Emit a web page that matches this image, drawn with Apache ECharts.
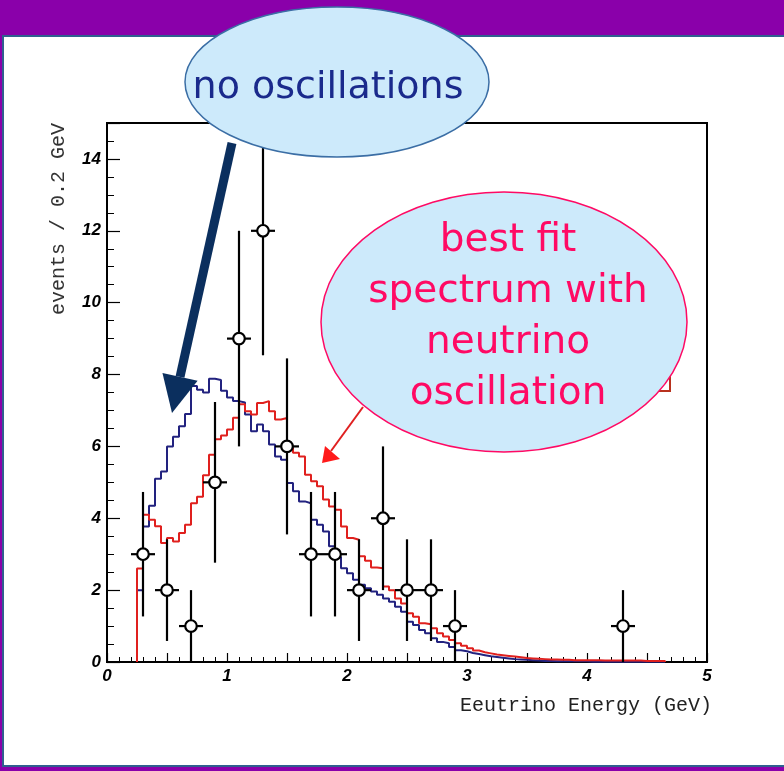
<!DOCTYPE html>
<html>
<head>
<meta charset="utf-8">
<script src="https://cdn.jsdelivr.net/npm/echarts@6/dist/echarts.min.js"></script>
<style>
  html, body { margin: 0; padding: 0; background: #8a00aa; }
  #chart { width: 784px; height: 771px; }
</style>
</head>
<body>
<div id="chart"></div>
<script>
// Histogram binning (GeV)
const binStart = 0.25;
const binWidth = 0.05;

// Best-fit spectrum with oscillation (events per bin)
const oscFit = [
  2.60, 4.10, 3.96, 3.78, 3.31, 3.45, 3.35, 3.59, 3.82, 4.42,
  4.60, 5.20, 5.77, 6.20, 6.30, 6.47, 6.80, 7.17, 6.98, 6.89,
  7.21, 7.26, 6.98, 6.75, 6.79, 5.96, 5.82, 5.72, 5.21, 5.03,
  4.89, 4.52, 4.33, 4.24, 3.77, 3.45, 3.40, 2.94, 2.82, 2.63,
  2.61, 2.10, 2.00, 1.77, 1.63, 1.36, 1.26, 1.08, 1.05, 0.94,
  0.80, 0.71, 0.61, 0.52, 0.45, 0.38, 0.32, 0.27, 0.24, 0.21,
  0.19, 0.17, 0.15, 0.13, 0.11, 0.10, 0.09, 0.08, 0.07, 0.07,
  0.06, 0.06, 0.05, 0.05, 0.05, 0.05, 0.05, 0.04, 0.04, 0.04,
  0.04, 0.04, 0.04, 0.04, 0.03, 0.03, 0.03, 0.03
];

// Expectation without oscillation (events per bin)
const noOsc = [
  2.00, 3.77, 4.35, 5.10, 5.30, 6.00, 6.27, 6.56, 6.90, 7.68,
  7.58, 7.50, 7.88, 7.85, 7.55, 7.36, 7.26, 7.22, 6.89, 6.42,
  6.61, 6.42, 6.05, 5.72, 5.63, 4.98, 4.75, 4.47, 4.42, 3.96,
  3.82, 3.63, 3.22, 2.92, 2.61, 2.47, 2.29, 2.15, 2.05, 1.96,
  1.87, 1.77, 1.68, 1.54, 1.40, 1.12, 1.03, 0.89, 0.80, 0.66,
  0.56, 0.52, 0.42, 0.33, 0.30, 0.25, 0.22, 0.19, 0.16, 0.14,
  0.12, 0.10, 0.08, 0.07, 0.06, 0.05, 0.04, 0.03, 0.03, 0.02,
  0.02, 0.02, 0.02, 0.02, 0.02, 0.01, 0.01, 0.01, 0.01, 0.01,
  0.01, 0.01, 0.01, 0.01, 0.01, 0.01, 0.01, 0.01
];

// Observed events per 0.2 GeV
const dataEnergy = [0.3, 0.5, 0.7, 0.9, 1.1, 1.3, 1.5, 1.7, 1.9, 2.1, 2.3, 2.5, 2.7, 2.9, 4.3];
const dataEvents = [3, 2, 1, 5, 9, 12, 6, 3, 3, 2, 4, 2, 2, 1, 1];
const dataHalfWidth = 0.1;

// Axis ranges and tick steps
const xMin = 0, xMax = 5, xStep = 0.5, xLabelStep = 1;
const yMin = 0, yMax = 15, yMinorStep = 0.5, yMajorStep = 2;

const xTitle = 'Eeutrino Energy (GeV)';
const yTitle = 'events / 0.2 GeV';
const noteNoOsc = 'no oscillations';
const noteFit = ['best fit', 'spectrum with', 'neutrino', 'oscillation'];

function stepPoints(vals) {
  const pts = [[binStart, 0]];
  vals.forEach((v, i) => {
    const lo = +(binStart + i * binWidth).toFixed(3);
    const hi = +(lo + binWidth).toFixed(3);
    pts.push([lo, v], [hi, v]);
  });
  pts.push([pts[pts.length - 1][0], 0]);
  return pts;
}

const tickFont = { fontFamily: 'Liberation Sans', fontWeight: 'bold', fontStyle: 'italic', fontSize: 17, color: '#000' };

const chart = echarts.init(document.getElementById('chart'), null, { renderer: 'canvas' });

const pink = '#ff0a64';
const navy = '#0b2f5e';
const bubbleFill = '#cdeafb';

// arrow helper: shaft polygon + head triangle
function arrow(x1, y1, x2, y2, shaftW, headLen, headHalf, color, z) {
  const dx = x2 - x1, dy = y2 - y1, L = Math.hypot(dx, dy);
  const ux = dx / L, uy = dy / L, nx = -uy, ny = ux;
  const bx = x2 - ux * headLen, by = y2 - uy * headLen;
  const h = shaftW / 2;
  return [
    { type: 'polygon', z: z, shape: { points: [
        [x1 + nx * h, y1 + ny * h], [bx + nx * h, by + ny * h],
        [bx - nx * h, by - ny * h], [x1 - nx * h, y1 - ny * h]] },
      style: { fill: color } },
    { type: 'polygon', z: z, shape: { points: [
        [x2, y2], [bx + nx * headHalf, by + ny * headHalf], [bx - nx * headHalf, by - ny * headHalf]] },
      style: { fill: color } }
  ];
}

const graphics = [
  // white slide panel
  { type: 'rect', z: -100, shape: { x: 3, y: 36, width: 800, height: 730 },
    style: { fill: '#ffffff', stroke: '#2f5f8f', lineWidth: 2 } },
  // axis titles
  { type: 'text', z: 10, x: 712, y: 706,
    style: { text: xTitle, align: 'right', verticalAlign: 'middle',
      font: '20px "Liberation Mono"', fill: '#222' } },
  { type: 'text', z: 10, x: 59, y: 219, rotation: Math.PI / 2,
    style: { text: yTitle, align: 'center', verticalAlign: 'middle',
      font: '20px "Liberation Mono"', fill: '#333' } },
  // edge of a box partly behind the bubble
  { type: 'polyline', z: 50, shape: { points: [[670, 340], [670, 391], [640, 391]] },
    style: { stroke: '#b8321e', lineWidth: 2, fill: null } },
  // bubble: best fit
  { type: 'ellipse', z: 60, shape: { cx: 504, cy: 322, rx: 183, ry: 130 },
    style: { fill: bubbleFill, stroke: pink, lineWidth: 1.5 } },
  ...noteFit.map((t, i) => ({ type: 'text', z: 61, x: 508, y: 241 + i * 51,
    style: { text: t, align: 'center', verticalAlign: 'middle',
      font: '39px "DejaVu Sans"', fill: pink } })),
  { type: 'line', z: 62, shape: { x1: 363, y1: 407, x2: 331, y2: 451 },
    style: { stroke: '#e02020', lineWidth: 2 } },
  { type: 'polygon', z: 62, shape: { points: [[322, 463], [325, 446], [340, 459]] },
    style: { fill: '#ff1a1a' } },
  // bubble: no oscillations
  { type: 'ellipse', z: 60, shape: { cx: 337, cy: 82, rx: 152, ry: 75 },
    style: { fill: bubbleFill, stroke: '#3b6ea5', lineWidth: 1.5 } },
  { type: 'text', z: 61, x: 328, y: 88,
    style: { text: noteNoOsc, align: 'center', verticalAlign: 'middle',
      font: '38px "DejaVu Sans"', fill: '#1a2a8c' } },
  ...arrow(232, 143, 172, 413, 9, 37, 18, navy, 70)
];

const option = {
  backgroundColor: '#8a00aa',
  animation: false,
  grid: { left: 107, top: 123, width: 600, height: 539, show: true,
    borderColor: '#000', borderWidth: 2, backgroundColor: 'transparent' },
  xAxis: {
    type: 'value', min: xMin, max: xMax, interval: xStep,
    axisLine: { lineStyle: { color: '#000', width: 2 } },
    axisTick: { inside: true, length: 9, lineStyle: { color: '#000', width: 1.2 } },
    minorTick: { show: true, splitNumber: 5, length: 5, lineStyle: { color: '#000', width: 1 } },
    splitLine: { show: false },
    axisLabel: Object.assign({ margin: 6,
      formatter: v => (Math.abs(v / xLabelStep - Math.round(v / xLabelStep)) < 1e-6 ? String(v) : '') }, tickFont)
  },
  yAxis: [
    {
      type: 'value', min: yMin, max: yMax, interval: yMinorStep,
      axisLine: { show: true, lineStyle: { color: '#000', width: 2 } },
      axisTick: { inside: true, length: 7, lineStyle: { color: '#000', width: 1 } },
      axisLabel: { show: false },
      splitLine: { show: false }
    },
    {
      type: 'value', min: yMin, max: yMax, interval: yMajorStep, position: 'left', offset: 0,
      axisLine: { show: true, lineStyle: { color: '#000', width: 2 } },
      axisTick: { inside: true, length: 13, lineStyle: { color: '#000', width: 1.2 } },
      splitLine: { show: false },
      axisLabel: Object.assign({ margin: 6,
        formatter: v => (v % yMajorStep === 0 ? String(v) : '') }, tickFont)
    }
  ],
  series: [
    { type: 'line', name: 'no oscillation', data: stepPoints(noOsc), showSymbol: false,
      lineStyle: { color: '#22227f', width: 2 }, z: 3, clip: true },
    { type: 'line', name: 'oscillation fit', data: stepPoints(oscFit), showSymbol: false,
      lineStyle: { color: '#e0201e', width: 2 }, z: 4, clip: true },
    {
      type: 'custom', name: 'data', z: 6, clip: true,
      data: dataEnergy.map((e, i) => [e, dataEvents[i]]),
      renderItem: function (params, api) {
        const x = api.value(0), y = api.value(1), err = Math.sqrt(y);
        const top = api.coord([x, Math.min(y + err, yMax)]);
        const bot = api.coord([x, Math.max(y - err, yMin)]);
        const l = api.coord([x - dataHalfWidth, y]);
        const r = api.coord([x + dataHalfWidth, y]);
        const c = api.coord([x, y]);
        return { type: 'group', children: [
          { type: 'line', shape: { x1: top[0], y1: top[1], x2: bot[0], y2: bot[1] },
            style: { stroke: '#000', lineWidth: 2.2 } },
          { type: 'line', shape: { x1: l[0], y1: l[1], x2: r[0], y2: r[1] },
            style: { stroke: '#000', lineWidth: 2.2 } },
          { type: 'circle', shape: { cx: c[0], cy: c[1], r: 5.8 },
            style: { fill: '#fff', stroke: '#000', lineWidth: 2.2 } }
        ] };
      }
    }
  ],
  graphic: graphics
};

chart.setOption(option);
</script>
</body>
</html>
